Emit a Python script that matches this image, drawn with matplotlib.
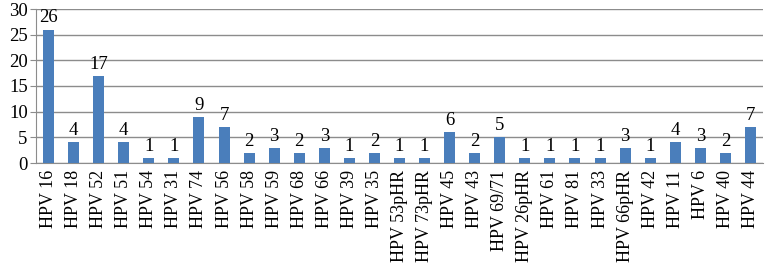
import matplotlib
matplotlib.use("Agg")
import matplotlib.pyplot as plt

categories = ["HPV 16", "HPV 18", "HPV 52", "HPV 51", "HPV 54", "HPV 31", "HPV 74", "HPV 56",
              "HPV 58", "HPV 59", "HPV 68", "HPV 66", "HPV 39", "HPV 35", "HPV 53pHR", "HPV 73pHR",
              "HPV 45", "HPV 43", "HPV 69/71", "HPV 26pHR", "HPV 61", "HPV 81", "HPV 33", "HPV 66pHR",
              "HPV 42", "HPV 11", "HPV 6", "HPV 40", "HPV 44"]
values = [26, 4, 17, 4, 1, 1, 9, 7, 2, 3, 2, 3, 1, 2, 1, 1, 6, 2, 5, 1, 1, 1, 1, 3, 1, 4, 3, 2, 7]
yticks = [0, 5, 10, 15, 20, 25, 30]

plt.rcParams['font.family'] = ['Liberation Serif', 'DejaVu Serif']

fig = plt.figure(figsize=(7.67, 2.72), dpi=100)
ax = fig.add_axes([36/767, 1-163/272, (763-36)/767, (163-9)/272])

x = list(range(len(categories)))
bars = ax.bar(x, values, width=0.44, color='#4a7ebb', zorder=3)
for xi, v in zip(x, values):
    ax.text(xi, v + 0.6, str(v), ha='center', va='bottom', fontsize=13.5, zorder=4)

ax.set_xlim(-0.5, len(categories) - 0.5)
ax.set_ylim(0, 30)
ax.set_yticks(yticks)
ax.set_yticklabels([str(t) for t in yticks], fontsize=13.5)
ax.set_xticks(x)
ax.set_xticklabels(categories, rotation=90, fontsize=13)
ax.grid(axis='y', color='#8c8c8c', linewidth=1, zorder=0)
for s in ['top', 'right']:
    ax.spines[s].set_visible(False)
for s in ['left', 'bottom']:
    ax.spines[s].set_color('#8c8c8c')
ax.tick_params(axis='x', length=0, pad=5)
ax.tick_params(axis='y', length=4, color='#8c8c8c', pad=2)

fig.savefig('out.png', dpi=100)
